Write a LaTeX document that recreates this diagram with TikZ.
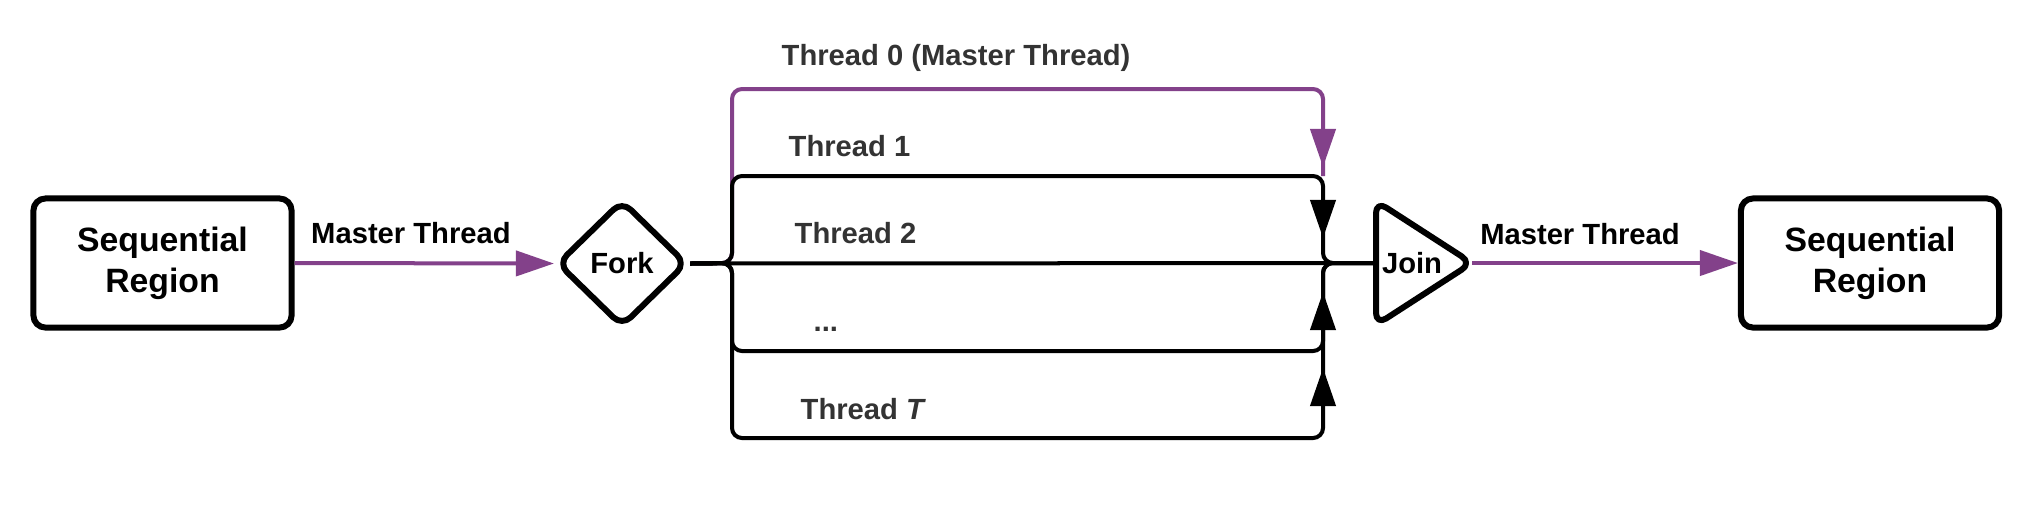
\documentclass[tikz,border=0pt]{standalone}
\usepackage{fontspec}
\setmainfont{Liberation Sans}
\usetikzlibrary{shapes.geometric,arrows.meta}
\definecolor{mpurple}{RGB}{131,65,138}
\definecolor{tgray}{RGB}{51,51,51}
\begin{document}
\begin{tikzpicture}[x=0.01cm,y=-0.01cm,
  region/.style={draw,line width=0.06cm,rounded corners=0.12cm,minimum width=2.58cm,minimum height=1.29cm,align=center,font=\fontsize{9.6}{11.7}\selectfont\bfseries},
  lbl/.style={font=\fontsize{8.3}{10}\selectfont\bfseries},
  tlbl/.style={lbl,text=tgray,anchor=west,inner sep=0pt},
  thr/.style={draw,line width=0.04cm,rounded corners=0.1cm},
  arr/.style={line width=0.04cm,-{Triangle[length=0.38cm,width=0.25cm]}},
  shapeline/.style={draw,line width=0.06cm,rounded corners=0.12cm,line join=round},
]
\useasboundingbox (0,0) rectangle (2040,517);

% nodes
\node[region] (seqL) at (162.5,263) {Sequential\\Region};
\node[region] (seqR) at (1870,263) {Sequential\\Region};
\node[shapeline,diamond,minimum width=1.3cm,minimum height=1.27cm,inner sep=0pt,lbl] (fork) at (622,263.5) {Fork};
\coordinate (joinW) at (1376,263);
\coordinate (joinE) at (1472,263);
\draw[shapeline] (1376,201) -- (joinE) -- (1376,325) -- cycle;
\node[lbl] (join) at (1412,263) {Join};

% junction points
\coordinate (bL) at (732,263);
\coordinate (bR) at (1323,263);

% master thread arrows
\draw[mpurple,arr] (seqL.east) -- (fork.west);
\node[lbl] (mt1) at (411,233) {Master Thread};
\draw[mpurple,arr] (joinE) -- (seqR.west);
\node[lbl] (mt2) at (1580,234) {Master Thread};

% thread 0 (purple)
\draw[thr,mpurple] (fork.east) -- (bL) -- (732,89) -- (1323,89) -- (1323,176);
% threads
\draw[thr] (fork.east) -- (bL) -- (732,176) -- (1323,176) -- (bR) -- (joinW);
\draw[thr] (fork.east) -- (joinW);
\draw[thr] (fork.east) -- (bL) -- (732,351) -- (1323,351) -- (bR) -- (joinW);
\draw[thr] (fork.east) -- (bL) -- (732,438) -- (1323,438) -- (bR) -- (joinW);

% arrowheads
\draw[mpurple,arr] (1323,125) -- (1323,167);
\draw[arr] (1323,196) -- (1323,238);
\draw[arr] (1323,335) -- (1323,292);
\draw[arr] (1323,410) -- (1323,368);

% labels
\node[tlbl] (t0) at (781,58) {Thread 0 (Master Thread)};
\node[tlbl] (t1) at (788,146) {Thread 1};
\node[tlbl] (t2) at (794,233) {Thread 2};
\node[lbl,text=tgray,anchor=base west,inner sep=0pt] (td) at (813,331) {...};
\node[tlbl] (tT) at (800,409) {Thread \textit{T}};
\end{tikzpicture}
\end{document}
